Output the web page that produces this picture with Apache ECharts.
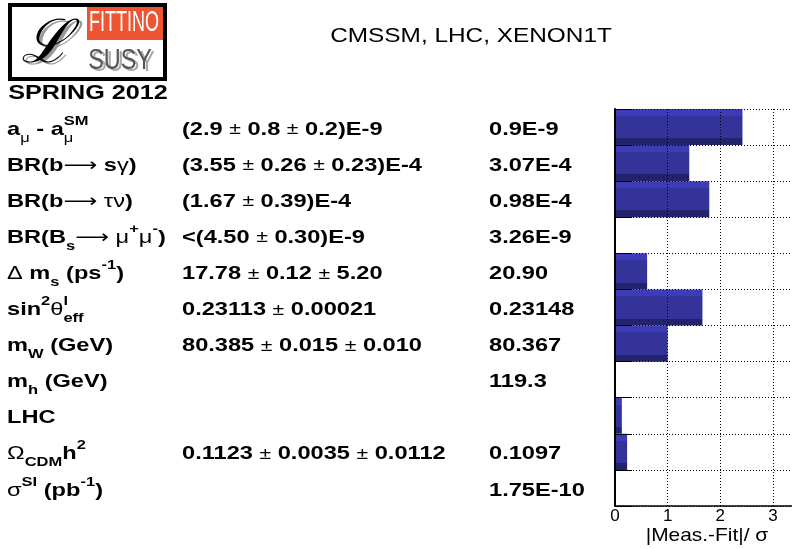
<!DOCTYPE html>
<html><head><meta charset="utf-8">
<script src="https://cdn.jsdelivr.net/npm/echarts@6/dist/echarts.min.js"></script>
<style>html,body{margin:0;padding:0;background:#fff}#c{width:792px;height:549px}</style>
</head><body><div id="c"></div>
<script>
// ---- data ----
const observables = [
  'a_{μ} - a_{μ}^{SM}',
  'BR(b⟶ sγ)',
  'BR(b⟶ τν)',
  'BR(B_{s}⟶ μ^{+}μ^{-})',
  'Δ m_{s} (ps^{-1})',
  'sin^{2}θ^{l}_{eff}',
  'm_{W} (GeV)',
  'm_{h} (GeV)',
  'LHC',
  'Ω_{CDM}h^{2}',
  'σ^{SI} (pb^{-1})'
];
const measured = [
  '(2.9 ± 0.8 ± 0.2)E-9',
  '(3.55 ± 0.26 ± 0.23)E-4',
  '(1.67 ± 0.39)E-4',
  '<(4.50 ± 0.30)E-9',
  '17.78 ± 0.12 ± 5.20',
  '0.23113 ± 0.00021',
  '80.385 ± 0.015 ± 0.010',
  '',
  '',
  '0.1123 ± 0.0035 ± 0.0112',
  ''
];
const fitted = ['0.9E-9','3.07E-4','0.98E-4','3.26E-9','20.90','0.23148','80.367','119.3','','0.1097','1.75E-10'];
const pulls = [2.42, 1.41, 1.79, 0, 0.61, 1.66, 1.00, 0, 0.13, 0.23, 0];
const xMin = 0, xMax = 3.36, xStep = 1;
const titleText = 'CMSSM, LHC, XENON1T';
const xTitle = '|Meas.-Fit|/ σ';

// ---- rich text helper ----
const GCH = 'μγτνΔθΩσ±→⟶';
const GREEK_RE = new RegExp('[' + GCH + ']+|[^' + GCH + ']+', 'g');
const GTEST = new RegExp('[' + GCH + ']');
function toRich(s) {
  const out = []; let i = 0, buf = '';
  while (i < s.length) {
    const c = s[i];
    if ((c === '_' || c === '^') && s[i + 1] === '{') {
      if (buf) { out.push({t: buf, k: 'n'}); buf = ''; }
      const j = s.indexOf('}', i);
      out.push({t: s.slice(i + 2, j), k: c === '_' ? 'sub' : 'sup'});
      i = j + 1;
    } else { buf += c; i++; }
  }
  if (buf) out.push({t: buf, k: 'n'});
  let str = '';
  out.forEach((tk, idx) => {
    const next = out[idx + 1];
    const stacked = tk.k !== 'n' && next && next.k !== 'n' && next.k !== tk.k;
    const runs = tk.t.match(GREEK_RE) || [];
    runs.forEach((r, ri) => {
      const g = GTEST.test(r[0]) ? (r[0] === '±' ? 'p' : 'g') : 'b';
      const name = g + tk.k + (stacked && ri === runs.length - 1 ? 'z' : '');
      str += '{' + name + '|' + r + '}';
    });
  });
  return str;
}
const FF = 'Liberation Sans, Arial, Helvetica, DejaVu Sans, sans-serif';
const F = 18.6, FS = 13;
function mk(weight, size, kind, zero) {
  const st = {fontFamily: FF, fontWeight: weight, fontSize: size, fill: '#000'};
  if (kind === 'n') { st.lineHeight = 30; }
  if (kind === 'sub') { st.verticalAlign = 'bottom'; st.lineHeight = 14; }
  if (kind === 'sup') { st.verticalAlign = 'top'; st.lineHeight = 18; }
  if (zero) st.width = 0;
  return st;
}
const rich = {};
['n', 'sub', 'sup'].forEach(k => {
  const size = k === 'n' ? F : FS;
  rich['b' + k] = mk('bold', size, k);
  rich['g' + k] = mk('normal', size, k);
  rich['p' + k] = mk('normal', size * 0.9, k);
  rich['b' + k + 'z'] = mk('bold', size, k, true);
  rich['g' + k + 'z'] = mk('normal', size, k, true);
  rich['p' + k + 'z'] = mk('normal', size * 0.9, k, true);
});

const chart = echarts.init(document.getElementById('c'), null, {renderer: 'canvas'});
const dotted = {color: '#000', type: [1, 2], width: 1};
const unit = 52.67;
chart.setOption({
  animation: false,
  grid: {left: 615, top: 109, width: unit * (xMax - xMin), height: 397},
  xAxis: {
    type: 'value', min: xMin, max: xMax, interval: xStep, z: 3,
    axisLine: {show: true, lineStyle: {color: '#000', width: 1.5}},
    axisTick: {show: false},
    axisLabel: {color: '#000', fontSize: 17, fontFamily: FF, margin: 2,
      showMaxLabel: false,
      formatter: v => (Math.abs(v - Math.round(v)) < 1e-9 ? String(Math.round(v)) : '')},
    splitLine: {show: true, lineStyle: dotted}
  },
  yAxis: {
    type: 'category', inverse: true, data: observables, z: 3,
    axisLine: {show: true, onZero: false, lineStyle: {color: '#000', width: 2}},
    axisTick: {show: true, inside: true, length: 17, lineStyle: {color: '#000', width: 1}},
    axisLabel: {show: false},
    splitLine: {show: true, lineStyle: dotted}
  },
  series: [{
    type: 'bar', data: pulls, barWidth: '100%', barCategoryGap: 0, z: 2,
    itemStyle: {
      color: new echarts.graphic.LinearGradient(0, 0, 0, 1, [
        {offset: 0, color: '#3c3cb6'}, {offset: 0.19, color: '#3c3cb6'},
        {offset: 0.19, color: '#333399'}, {offset: 0.81, color: '#333399'},
        {offset: 0.81, color: '#23236b'}, {offset: 1, color: '#23236b'}
      ])
    }
  }]
});

const els = [];
const colX = [7, 182, 489];
[observables, measured, fitted].forEach((col, ci) => {
  col.forEach((txt, r) => {
    if (!txt) return;
    const y = chart.convertToPixel({yAxisIndex: 0}, r) + 2.5;
    els.push({
      type: 'text', x: colX[ci], y: y, scaleX: 1.27, scaleY: 1, z: 10,
      style: {text: toRich(txt), rich: rich, align: 'left', verticalAlign: 'middle'}
    });
  });
});
// title
els.push({type: 'text', x: 471, y: 37, scaleX: 1.25, z: 10,
  style: {text: titleText, fontFamily: FF, fontSize: 19.5, fill: '#000', align: 'center', verticalAlign: 'middle'}});
// x axis title
els.push({type: 'text', x: 707, y: 536, scaleX: 1.1, z: 10,
  style: {text: xTitle, fontFamily: FF, fontSize: 19, fill: '#000', align: 'center', verticalAlign: 'middle'}});
// logo
els.push({type: 'rect', shape: {x: 10, y: 5, width: 155, height: 74}, z: 10,
  style: {fill: '#fff', stroke: '#000', lineWidth: 4}});
els.push({type: 'rect', shape: {x: 87, y: 7, width: 76, height: 33}, z: 11,
  style: {fill: '#ee5533'}});
els.push({type: 'text', x: 124, y: 23, scaleX: 0.6, z: 12,
  style: {text: 'FITTINO', fontFamily: FF, fontSize: 30, fill: '#fff', align: 'center', verticalAlign: 'middle'}});
els.push({type: 'text', x: 123, y: 63, scaleX: 0.78, z: 12,
  style: {text: 'SUSY', fontFamily: FF, fontSize: 30, fill: '#aaa', align: 'center', verticalAlign: 'middle'}});
els.push({type: 'text', x: 120, y: 61, scaleX: 0.78, z: 13,
  style: {text: 'SUSY', fontFamily: FF, fontSize: 30, fill: '#555', align: 'center', verticalAlign: 'middle'}});
els.push({type: 'text', x: 49, y: 48, z: 12,
  style: {text: 'ℒ', fontFamily: 'DejaVu Serif', fontStyle: 'italic', fontSize: 60, fill: '#999', align: 'center', verticalAlign: 'middle'}});
els.push({type: 'text', x: 46, y: 46, z: 13,
  style: {text: 'ℒ', fontFamily: 'DejaVu Serif', fontStyle: 'italic', fontSize: 60, fill: '#000', align: 'center', verticalAlign: 'middle'}});
els.push({type: 'text', x: 88, y: 93, scaleX: 1.2, z: 12,
  style: {text: 'SPRING 2012', fontFamily: FF, fontWeight: 'bold', fontSize: 21, fill: '#000', align: 'center', verticalAlign: 'middle'}});

chart.setOption({graphic: {elements: els}});
</script>
</body></html>
